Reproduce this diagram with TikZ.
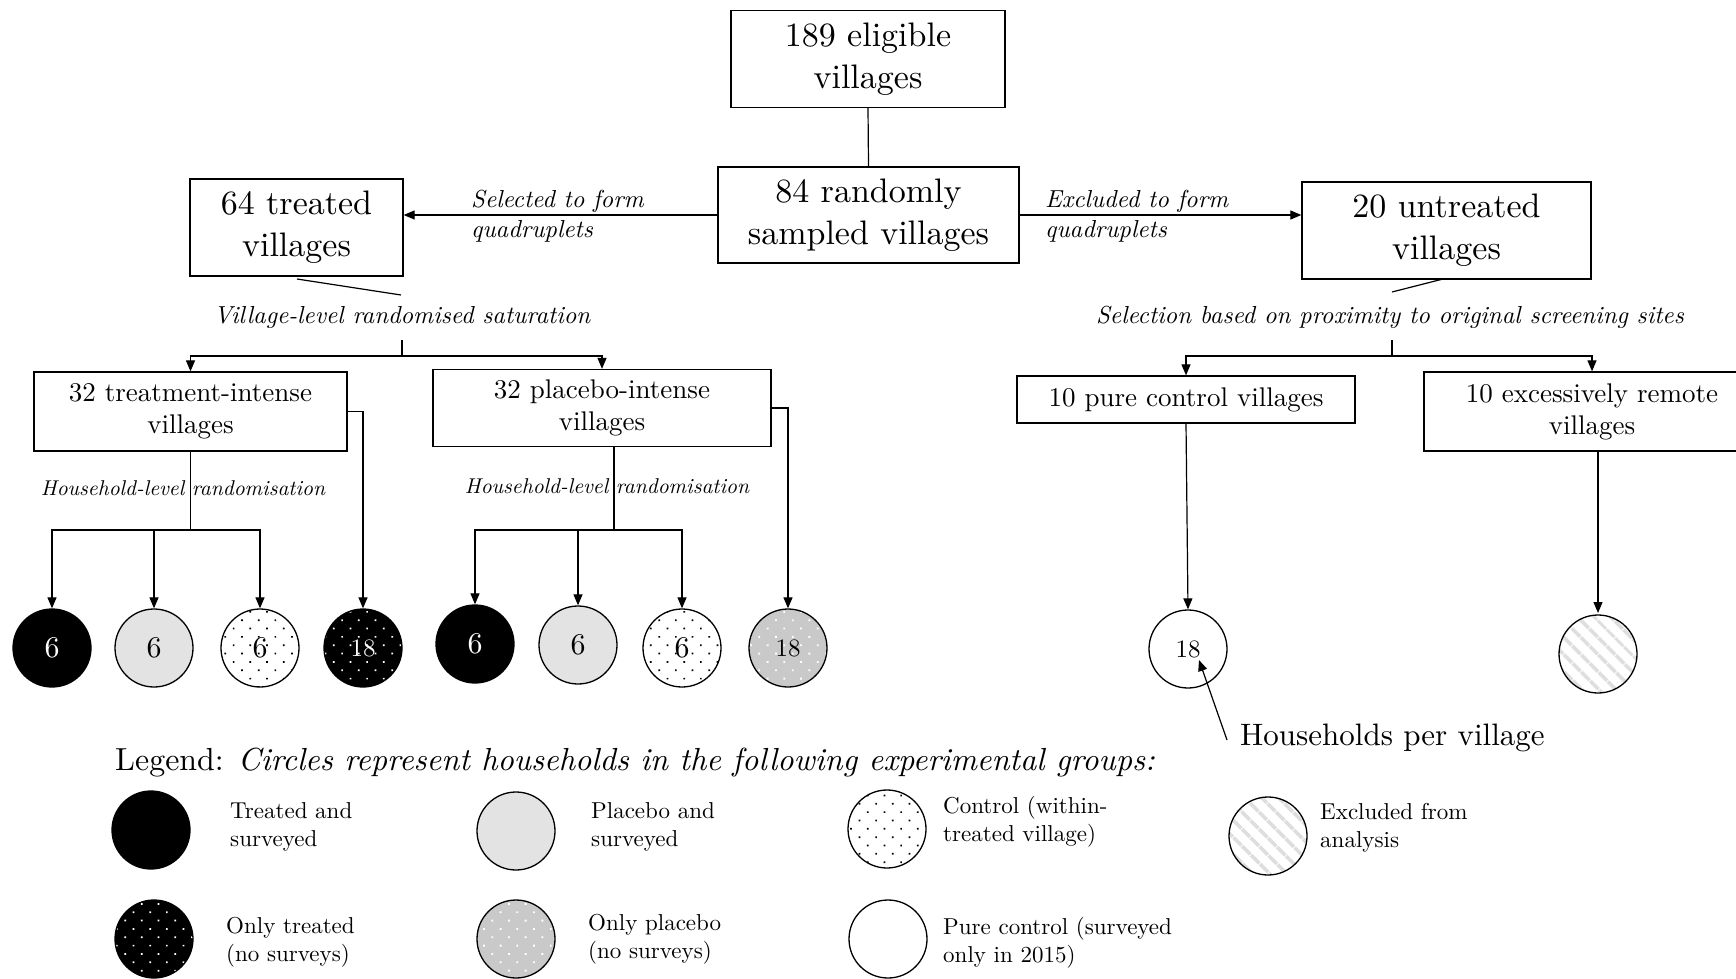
\documentclass[tikz,border=0pt]{standalone}
\usepackage{fontspec}
\setmainfont{lmroman10-regular.otf}[ItalicFont=lmroman10-italic.otf, BoldFont=lmroman10-bold.otf]
\usetikzlibrary{arrows.meta,patterns.meta}
\tikzset{
  box/.style={draw, line width=1.3pt, inner sep=0pt, align=center, font=\fontsize{34}{42}\selectfont},
  sbox/.style={draw, line width=1.3pt, inner sep=0pt, align=center, font=\fontsize{27}{32}\selectfont},
  conn/.style={line width=1.2pt},
  arr/.style={conn, -{Triangle[length=11pt,width=9pt]}},
  lab/.style={font=\fontsize{24.6}{30}\selectfont\itshape, inner sep=0pt},
  hlab/.style={font=\fontsize{21.4}{24}\selectfont\itshape, inner sep=0pt},
  hh/.style={circle, draw, line width=1.3pt, minimum size=78pt, inner sep=0pt, font=\fontsize{30}{30}\selectfont},
  big/.style={font=\fontsize{25}{25}\selectfont},
  tsv/.style={hh, fill=black, text=white},
  psv/.style={hh, fill=black!11},
  ctl/.style={hh, pattern={Dots[distance=11.8pt, radius=1.2pt, angle=45]}, pattern color=black},
  tonly/.style={hh, preaction={fill=black}, pattern={Dots[distance=11.8pt, radius=1.2pt, angle=45]}, pattern color=white, text=white},
  ponly/.style={hh, preaction={fill=black!21}, pattern={Dots[distance=11.8pt, radius=1.3pt, angle=45]}, pattern color=white},
  pure/.style={hh, fill=white},
  excl/.style={hh, preaction={fill=white}, pattern={Lines[angle=-45, distance=13pt, line width=4pt]}, pattern color=black!13},
  legtxt/.style={anchor=west, align=left, inner sep=0pt, font=\fontsize{23}{28}\selectfont},
}
\begin{document}
\begin{tikzpicture}[x=1pt, y=-1pt]
\useasboundingbox (0,0) rectangle (1736,979);

% top boxes
\node[box, minimum width=274pt, minimum height=97pt] (eligible) at (868,59) {189 eligible\\villages};
\node[box, minimum width=301pt, minimum height=96pt] (sampled) at (868.5,215) {84 randomly\\sampled villages};
\node[box, minimum width=213pt, minimum height=97pt] (treated) at (296.5,227.5) {64 treated\\villages};
\node[box, minimum width=289pt, minimum height=97pt] (untreated) at (1446.5,230.5) {20 untreated\\villages};

\draw[conn] (eligible.south) -- (sampled.north);
\draw[arr] (sampled.west) -- (sampled.west -| treated.east);
\draw[arr] (sampled.east) -- (sampled.east -| untreated.west);

\node[lab, anchor=base west] (sel1) at (471,207) {Selected to form};
\node[lab, anchor=base west] (sel2) at (471,237) {quadruplets};
\node[lab, anchor=base west] (exc1) at (1045,207) {Excluded to form};
\node[lab, anchor=base west] (exc2) at (1045,237) {quadruplets};

% village-level randomisation
\coordinate (vlend) at (401,295);
\draw[conn] (297,279) -- (vlend);
\node[lab] (vlab) at (402,317) {Village-level randomised saturation};
\coordinate (vtop) at (402,340);
\coordinate (vsplit) at (402,356);
\draw[conn] (vtop) -- (vsplit);

\node[sbox, minimum width=313pt, minimum height=79pt] (tint) at (190.5,411.5) {32 treatment-intense\\villages};
\node[sbox, minimum width=338pt, minimum height=77pt] (pint) at (602,408) {32 placebo-intense\\villages};
\draw[arr] (vsplit) -| (tint.north);
\draw[arr] (vsplit) -| (pint.north);

% right side
\coordinate (send) at (1392,292);
\draw[conn] (1443,279) -- (send);
\node[lab] (slab) at (1390,317) {Selection based on proximity to original screening sites};
\coordinate (stop) at (1392,340);
\coordinate (ssplit) at (1392,356);
\draw[conn] (stop) -- (ssplit);

\node[sbox, minimum width=338pt, minimum height=47pt] (pc) at (1186,399.5) {10 pure control villages};
\node[sbox, minimum width=336pt, minimum height=79pt] (rm) at (1592,411.5) {10 excessively remote\\villages};
\draw[arr] (ssplit) -| (pc.north);
\draw[arr] (ssplit) -| (rm.north);

% circles
\node[tsv] (c1) at (52,648) {6};
\node[psv] (c2) at (154,648) {6};
\node[ctl] (c3) at (260,648) {6};
\node[tonly, big] (c4) at (363,648) {18};
\node[tsv] (c5) at (475,644) {6};
\node[psv] (c6) at (578,645) {6};
\node[ctl] (c7) at (682,648) {6};
\node[ponly, big] (c8) at (788,648) {18};
\node[pure, big] (c9) at (1188,649) {18};
\node[excl] (c10) at (1598,654) {};

% household-level randomisation (treatment)
\node[hlab] (hl1) at (183,488) {Household-level randomisation};
\coordinate (tsplit) at (190.5,530);
\draw[conn] (tint.south) -- (tsplit);
\draw[arr] (tsplit) -| (c1.north);
\draw[arr] (tsplit) -| (c2.north);
\draw[arr] (tsplit) -| (c3.north);
\draw[arr] (tint.east) -| (c4.north);

% household-level randomisation (placebo)
\node[hlab] (hl2) at (607,486) {Household-level randomisation};
\coordinate (ptop) at (614,446.5);
\coordinate (psplit) at (614,530);
\draw[conn] (ptop) -- (psplit);
\draw[arr] (psplit) -| (c5.north);
\draw[arr] (psplit) -| (c6.north);
\draw[arr] (psplit) -| (c7.north);
\draw[arr] (pint.east) -| (c8.north);

\draw[arr] (pc.south) -- (c9.north);
\draw[arr] ([xshift=6pt]rm.south) -- (c10.north);

% households per village
\node[anchor=west, inner sep=0pt, font=\fontsize{31}{31}\selectfont] (hpv) at (1240,738) {Households per village};
\coordinate (hpvstart) at (1227,740);
\coordinate (hpvtip) at (1199,660);
\draw[arr] (hpvstart) -- (hpvtip);

% legend
\node[anchor=base west, inner sep=0pt, font=\fontsize{31.9}{32}\selectfont] (legend) at (115,770) {Legend: \textit{Circles represent households in the following experimental groups:}};

\node[hh, fill=black] (l1) at (151,830) {};
\node[legtxt] (t1) at (230,827) {Treated and\\surveyed};
\node[hh, fill=black!11] (l2) at (516,831) {};
\node[legtxt] (t2) at (591,827) {Placebo and\\surveyed};
\node[ctl] (l3) at (887,829) {};
\node[legtxt] (t3) at (943,822) {Control (within-\\treated village)};
\node[excl] (l4) at (1268,836) {};
\node[legtxt] (t4) at (1320,828) {Excluded from\\analysis};

\node[tonly] (l5) at (154,939) {};
\node[legtxt] (t5) at (226,942) {Only treated\\(no surveys)};
\node[ponly] (l6) at (516,939) {};
\node[legtxt] (t6) at (588,939) {Only placebo\\(no surveys)};
\node[pure] (l7) at (888,939) {};
\node[legtxt] (t7) at (943,943) {Pure control (surveyed\\only in 2015)};
\end{tikzpicture}
\end{document}
